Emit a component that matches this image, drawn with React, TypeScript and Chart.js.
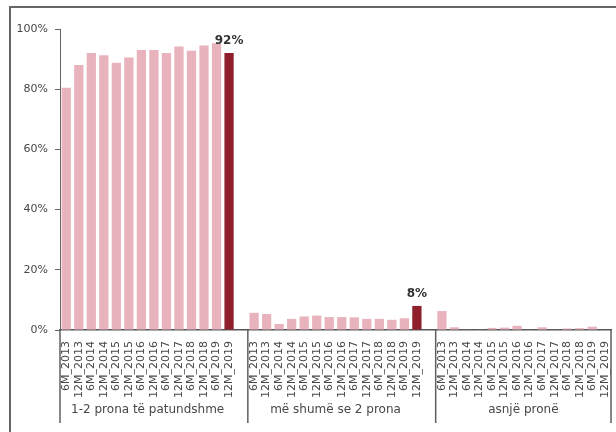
import { useEffect, useRef } from 'react';
import { Chart, registerables } from 'chart.js';

Chart.register(...registerables);

// Property-ownership categories (outer axis level)
const GROUPS = ['1-2 prona të patundshme', 'më shumë se 2 prona', 'asnjë pronë'];

// Survey periods (inner axis level)
const PERIODS = [
  '6M_2013', '12M_2013', '6M_2014', '12M_2014', '6M_2015', '12M_2015', '6M_2016',
  '12M_2016', '6M_2017', '12M_2017', '6M_2018', '12M_2018', '6M_2019', '12M_2019',
];

// Share of households (%) per period
const SHARE_ONE_TWO = [80.5, 88, 92, 91.3, 88.8, 90.5, 93, 93, 92, 94.2, 92.8, 94.5, 95.3, 92];
const SHARE_MORE_THAN_TWO = [5.7, 5.3, 2, 3.7, 4.5, 4.8, 4.3, 4.3, 4.2, 3.7, 3.7, 3.4, 3.9, 8];
const SHARE_NONE = [6.3, 0.9, 0.2, 0.2, 0.7, 0.8, 1.4, 0.2, 0.9, 0.2, 0.5, 0.6, 1.1, 0];

const SERIES = [SHARE_ONE_TWO, SHARE_MORE_THAN_TWO, SHARE_NONE];

const Y_TICKS = [0, 20, 40, 60, 80, 100];

const LIGHT = '#e8b3bc';
const DARK = '#8f1f2b';
const TEXT = '#474747';
const FONT = 'DejaVu Sans';

export default function App() {
  const canvasRef = useRef<HTMLCanvasElement>(null);

  useEffect(() => {
    const labels: string[] = [];
    const values: (number | null)[] = [];
    const colors: string[] = [];
    const groupSlots: number[][] = [];

    GROUPS.forEach((_, gi) => {
      const slots: number[] = [];
      PERIODS.forEach((p, pi) => {
        slots.push(labels.length);
        labels.push(p);
        values.push(SERIES[gi][pi]);
        colors.push(pi === PERIODS.length - 1 ? DARK : LIGHT);
      });
      groupSlots.push(slots);
      // empty spacer slot between groups
      if (gi < GROUPS.length - 1) {
        labels.push('');
        values.push(null);
        colors.push(LIGHT);
      }
    });

    // Group dividers, group captions and the latest-period value labels
    const overlay = {
      id: 'overlay',
      afterDraw(chart: any) {
        const ctx = chart.ctx as CanvasRenderingContext2D;
        const x = chart.scales.x;
        const y = chart.scales.y;
        const slot = x.width / labels.length;
        const axisY = chart.chartArea.bottom;
        const bottom = 423;

        ctx.save();
        ctx.strokeStyle = '#5f5f5f';
        ctx.lineWidth = 1.5;
        const bounds = groupSlots.map((s) => x.getPixelForValue(s[0]) - slot / 2);
        bounds.push(x.right);
        bounds.forEach((bx) => {
          ctx.beginPath();
          ctx.moveTo(bx, axisY);
          ctx.lineTo(bx, bottom);
          ctx.stroke();
        });

        ctx.fillStyle = TEXT;
        ctx.font = `12px "${FONT}"`;
        ctx.textAlign = 'center';
        ctx.textBaseline = 'middle';
        GROUPS.forEach((g, gi) => {
          const s = groupSlots[gi];
          const cx = (x.getPixelForValue(s[0]) + x.getPixelForValue(s[s.length - 1])) / 2;
          ctx.fillText(g, cx, 410);
        });

        ctx.font = `bold 12px "${FONT}"`;
        ctx.fillStyle = '#333333';
        ctx.textBaseline = 'bottom';
        groupSlots.forEach((s) => {
          const idx = s[s.length - 1];
          const v = values[idx];
          if (v == null || v <= 0) return;
          ctx.fillText(`${Math.round(v)}%`, x.getPixelForValue(idx), y.getPixelForValue(v) - 6);
        });
        ctx.restore();
      },
    };

    const chart = new Chart(canvasRef.current!, {
      type: 'bar',
      data: {
        labels,
        datasets: [
          {
            data: values,
            backgroundColor: colors,
            borderWidth: 0,
            barPercentage: 0.74,
            categoryPercentage: 1,
          },
        ],
      },
      options: {
        responsive: false,
        animation: false,
        layout: { padding: { left: 0, right: 5, top: 29, bottom: 0 } },
        plugins: {
          legend: { display: false },
          tooltip: { enabled: false },
        },
        scales: {
          x: {
            grid: { display: false },
            border: { display: true, color: '#555555', width: 1.5 },
            ticks: {
              autoSkip: false,
              minRotation: 90,
              maxRotation: 90,
              padding: 3,
              color: TEXT,
              font: { family: FONT, size: 11 },
            },
            afterFit: (scale: any) => {
              scale.height = 102;
              scale.paddingLeft = 0;
              scale.paddingRight = 0;
            },
          },
          y: {
            min: 0,
            max: 100,
            afterBuildTicks: (scale: any) => {
              scale.ticks = Y_TICKS.map((v) => ({ value: v }));
            },
            grid: {
              display: true,
              drawOnChartArea: false,
              drawTicks: true,
              tickLength: 5,
              color: '#666666',
            },
            border: { display: true, color: '#666666', width: 1 },
            ticks: {
              padding: 7,
              color: TEXT,
              font: { family: FONT, size: 11 },
              callback: (v: any) => `${v}%`,
            },
            afterFit: (scale: any) => {
              scale.width = 60;
            },
          },
        },
      },
      plugins: [overlay],
    });

    return () => chart.destroy();
  }, []);

  return (
    <div
      style={{
        position: 'fixed',
        left: 0,
        top: 0,
        width: 616,
        height: 432,
        overflow: 'hidden',
        background: '#ffffff',
      }}
    >
      <canvas
        ref={canvasRef}
        width={616}
        height={432}
        style={{ position: 'absolute', left: 0, top: 0, width: 616, height: 432 }}
      />
      <div
        style={{
          position: 'absolute',
          left: 9,
          top: 6,
          width: 640,
          height: 460,
          borderLeft: '2px solid #666666',
          borderTop: '2px solid #666666',
          pointerEvents: 'none',
        }}
      />
    </div>
  );
}
